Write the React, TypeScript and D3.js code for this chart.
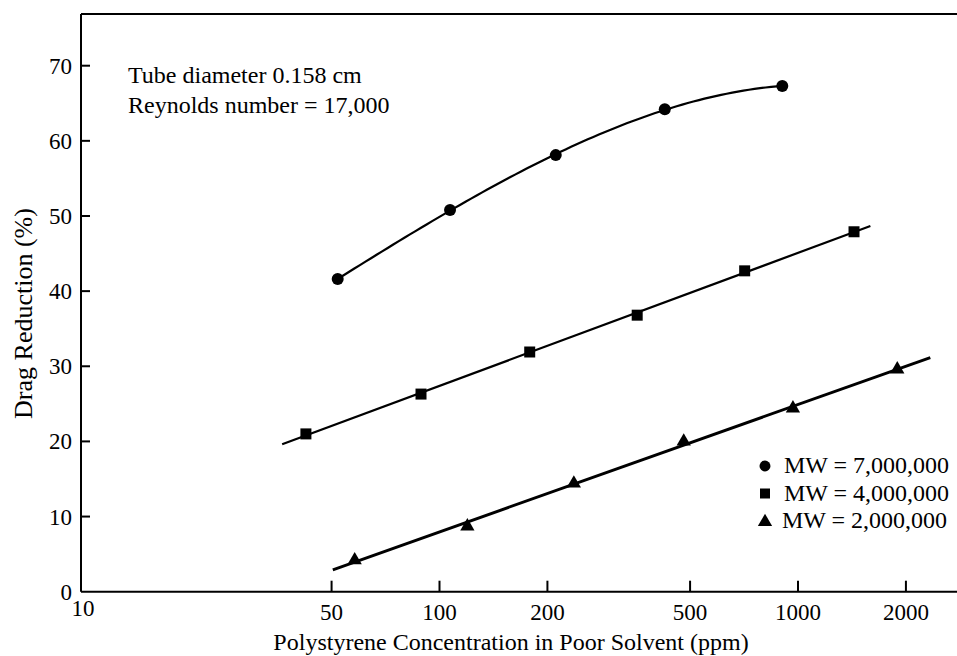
import React from "react";
import * as d3 from "d3";

// ---- data ----
const xTicks = [10, 50, 100, 200, 500, 1000, 2000];
const yTicks = [0, 10, 20, 30, 40, 50, 60, 70];

const mw7X = [52, 107, 211, 425, 904];
const mw7Y = [41.6, 50.8, 58.1, 64.2, 67.3];

const mw4X = [42.4, 88.8, 178.5, 356, 710, 1433];
const mw4Y = [21.0, 26.3, 31.9, 36.8, 42.7, 47.9];
const mw4FitRange = [36.4, 1592];

const mw2X = [58, 119.6, 237, 480, 968, 1892];
const mw2Y = [4.2, 8.7, 14.4, 20.0, 24.4, 29.6];
const mw2FitRange = [50.4, 2339];

const legendLabels = ["MW = 7,000,000", "MW = 4,000,000", "MW = 2,000,000"];
const noteLines = ["Tube diameter 0.158 cm", "Reynolds number = 17,000"];
const xTitle = "Polystyrene Concentration in Poor Solvent (ppm)";
const yTitle = "Drag Reduction (%)";

// ---- layout ----
const W = 957;
const H = 656;
const left = 81;
const top = 14;
const bottom = 591.7;
const decade = 358.5;
const xMax = 2900;
const FONT = "'Liberation Serif', 'Times New Roman', serif";

const x = d3.scaleLog().domain([10, 100]).range([left, left + decade]);
const y = d3.scaleLinear().domain([0, 70]).range([bottom, 65.7]);
const xRight = x(xMax);

// least-squares polynomial fit in log10(x)
function polyFit(xs: number[], ys: number[], deg: number) {
  const lx = xs.map((v) => Math.log10(v));
  const c0 = d3.mean(lx)!;
  const n = deg + 1;
  const A: number[][] = Array.from({ length: n }, () => new Array(n + 1).fill(0));
  lx.forEach((v, k) => {
    const u = v - c0;
    for (let i = 0; i < n; i++) {
      for (let j = 0; j < n; j++) A[i][j] += Math.pow(u, i + j);
      A[i][n] += Math.pow(u, i) * ys[k];
    }
  });
  for (let i = 0; i < n; i++) {
    let p = i;
    for (let r = i + 1; r < n; r++) if (Math.abs(A[r][i]) > Math.abs(A[p][i])) p = r;
    [A[i], A[p]] = [A[p], A[i]];
    for (let r = 0; r < n; r++) {
      if (r === i) continue;
      const f = A[r][i] / A[i][i];
      for (let c = i; c <= n; c++) A[r][c] -= f * A[i][c];
    }
  }
  const coef = A.map((row, i) => row[n] / row[i]);
  return (v: number) => {
    const u = Math.log10(v) - c0;
    return coef.reduce((s, c, i) => s + c * Math.pow(u, i), 0);
  };
}

const f7 = polyFit(mw7X, mw7Y, 3);
const f4 = polyFit(mw4X, mw4Y, 1);
const f2 = polyFit(mw2X, mw2Y, 1);

const line = d3
  .line<[number, number]>()
  .x((d) => x(d[0]))
  .y((d) => y(d[1]));

const circleSym = d3.symbol().type(d3.symbolCircle).size(Math.PI * 36)();
const squareSym = d3.symbol().type(d3.symbolSquare).size(121)();
const triSym = d3.symbol().type(d3.symbolTriangle).size(88)();
const legendSyms = [
  d3.symbol().type(d3.symbolCircle).size(Math.PI * 30)(),
  d3.symbol().type(d3.symbolSquare).size(100)(),
  d3.symbol().type(d3.symbolTriangle).size(88)(),
];

export default function App() {
  const p7 = mw7X.map((v, i) => [v, mw7Y[i]] as [number, number]);
  const p4 = mw4X.map((v, i) => [v, mw4Y[i]] as [number, number]);
  const p2 = mw2X.map((v, i) => [v, mw2Y[i]] as [number, number]);
  const lo = Math.log10(mw7X[0]);
  const hi = Math.log10(mw7X[mw7X.length - 1]);
  const c7 = d3.range(0, 81).map((k) => {
    const v = Math.pow(10, lo + ((hi - lo) * k) / 80);
    return [v, f7(v)] as [number, number];
  });
  const fit4 = mw4FitRange.map((v) => [v, f4(v)] as [number, number]);
  const fit2 = mw2FitRange.map((v) => [v, f2(v)] as [number, number]);

  return (
    <svg
      width={W}
      height={H}
      style={{ position: "absolute", left: 0, top: 0, background: "#fff" }}
      fontFamily={FONT}
    >
      <rect x={0} y={0} width={W} height={H} fill="#fff" />
      {/* frame */}
      <line x1={left} x2={xRight} y1={top} y2={top} stroke="#000" strokeWidth={2} />
      <line x1={left} x2={xRight} y1={bottom} y2={bottom} stroke="#000" strokeWidth={2} />
      <line x1={left} x2={left} y1={top} y2={bottom} stroke="#000" strokeWidth={2} />

      {/* y ticks */}
      {yTicks.map((t) => (
        <g key={"y" + t}>
          {t > 0 && (
            <line x1={left} x2={left + 9} y1={y(t)} y2={y(t)} stroke="#000" strokeWidth={2} />
          )}
          <text x={72} y={y(t) + 8} fontSize={23} textAnchor="end" fill="#000">
            {t}
          </text>
        </g>
      ))}

      {/* x ticks */}
      {xTicks.map((t) => (
        <g key={"x" + t}>
          {t > 10 && (
            <line x1={x(t)} x2={x(t)} y1={bottom} y2={bottom - 11} stroke="#000" strokeWidth={2} />
          )}
          <text
            x={x(t) + (t === 10 ? 2 : 0)}
            y={t === 10 ? 616 : 620}
            fontSize={23}
            textAnchor="middle"
            fill="#000"
          >
            {t}
          </text>
        </g>
      ))}

      {/* axis titles */}
      <text x={511} y={650} fontSize={24} textAnchor="middle" fill="#000">
        {xTitle}
      </text>
      <text
        transform={`translate(32,313.5) rotate(-90)`}
        fontSize={26}
        textAnchor="middle"
        fill="#000"
      >
        {yTitle}
      </text>

      {/* annotation */}
      {noteLines.map((s, i) => (
        <text key={s} x={128} y={83 + i * 30} fontSize={24} fill="#000">
          {s}
        </text>
      ))}

      {/* curves */}
      <path d={line(c7)!} fill="none" stroke="#000" strokeWidth={2.2} />
      <path d={line(fit4)!} fill="none" stroke="#000" strokeWidth={2.2} />
      <path d={line(fit2)!} fill="none" stroke="#000" strokeWidth={2.9} />

      {/* markers */}
      {p7.map((d, i) => (
        <path key={"c" + i} d={circleSym!} transform={`translate(${x(d[0])},${y(d[1])})`} fill="#000" />
      ))}
      {p4.map((d, i) => (
        <path key={"s" + i} d={squareSym!} transform={`translate(${x(d[0])},${y(d[1])})`} fill="#000" />
      ))}
      {p2.map((d, i) => (
        <path key={"t" + i} d={triSym!} transform={`translate(${x(d[0])},${y(d[1])})`} fill="#000" />
      ))}

      {/* legend */}
      {legendLabels.map((s, i) => (
        <g key={s} transform={`translate(0,${466 + i * 27.5})`}>
          <path d={legendSyms[i]!} transform={`translate(765,${i === 2 ? 1 : 0})`} fill="#000" />
          <text x={i === 2 ? 782 : 784} y={7} fontSize={24} fill="#000">
            {s}
          </text>
        </g>
      ))}
    </svg>
  );
}
